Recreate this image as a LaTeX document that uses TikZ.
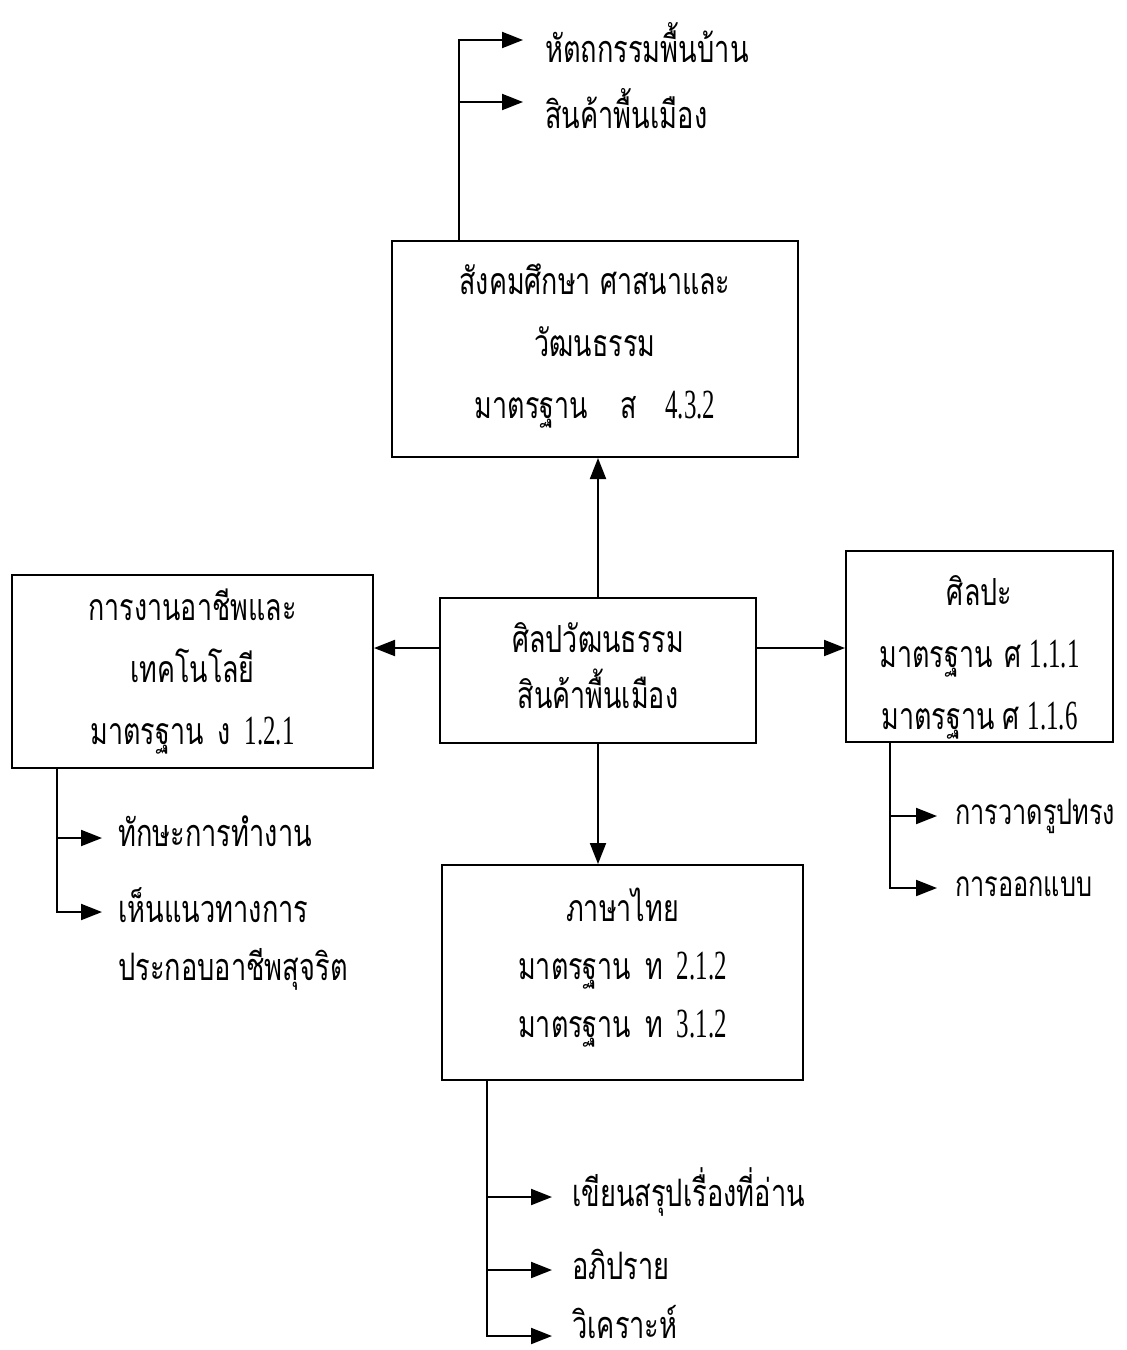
\documentclass[tikz,border=0pt]{standalone}
\usepackage{fontspec}
\setmainfont{Liberation Serif}[FakeStretch=0.6]
\newfontfamily\thaifont[Script=Thai,Scale=0.9,FakeStretch=0.72]{Loma}
\usetikzlibrary{arrows.meta}
\newcommand{\tf}[1]{{\thaifont #1}}
\begin{document}
\begin{tikzpicture}[x=1pt,y=-1pt,
  box/.style={draw, line width=2pt, align=center, inner sep=0pt},
  lbl/.style={anchor=base west, inner sep=0pt, font=\fontsize{42}{58}\selectfont},
  arr/.style={line width=2pt, -{Triangle[length=21pt,width=16pt]}},
  every node/.style={font=\fontsize{41.5}{60}\selectfont}]
\useasboundingbox[fill=white] (0,0) rectangle (1127,1350);

% boxes
\node[box, minimum width=406pt, minimum height=216pt] (soc) at (595,349)
  {\tf{สังคมศึกษา ศาสนาและ}\\[2pt]\tf{วัฒนธรรม}\\[2pt]\tf{มาตรฐาน}\hspace{33pt}\tf{ส}\hspace{28pt}4.3.2\\[-44pt]};
\node[box, minimum width=316pt, minimum height=145pt] (ctr) at (598,670.5)
  {\tf{ศิลปวัฒนธรรม}\\[-4pt]\tf{สินค้าพื้นเมือง}\\[-50pt]};
\node[box, minimum width=361pt, minimum height=193pt] (wrk) at (192.5,671.5)
  {\tf{การงานอาชีพและ}\\[2pt]\tf{เทคโนโลยี}\\[2pt]\tf{มาตรฐาน}\hspace{14pt}\tf{ง}\hspace{14pt}1.2.1};
\node[box, minimum width=267pt, minimum height=191pt] (art) at (979.5,646.5)
  {\tf{ศิลปะ}\\[2pt]\tf{มาตรฐาน}\hspace{12pt}\tf{ศ}\hspace{8pt}1.1.1\\[2pt]\tf{มาตรฐาน}\hspace{8pt}\tf{ศ}\hspace{8pt}1.1.6\\[-72pt]};
\node[box, minimum width=361pt, minimum height=215pt] (thl) at (622.5,972.5)
  {\tf{ภาษาไทย}\\[-2pt]\tf{มาตรฐาน}\hspace{14pt}\tf{ท}\hspace{14pt}2.1.2\\[-2pt]\tf{มาตรฐาน}\hspace{14pt}\tf{ท}\hspace{14pt}3.1.2\\[-40pt]};

% main connectors
\draw[arr] (ctr.north) -- (ctr.north |- soc.south);
\draw[arr] (ctr.west |- 0,648) -- (wrk.east |- 0,648);
\draw[arr] (ctr.east |- 0,648) -- (art.west |- 0,648);
\draw[arr] (ctr.south) -- (ctr.south |- thl.north);

% top branches
\node[lbl] (h1) at (545,62) {\tf{หัตถกรรมพื้นบ้าน}};
\node[lbl] (h2) at (545,128) {\tf{สินค้าพื้นเมือง}};
\coordinate (sj) at (soc.north -| 459,0);
\draw[arr] (sj) |- ([xshift=-22pt,yshift=22pt]h1.base west);
\draw[arr] (sj |- 0,102) -- ([xshift=-22pt,yshift=26pt]h2.base west);

% left branches
\node[lbl] (l1) at (118,846) {\tf{ทักษะการทำงาน}};
\node[lbl] (l2) at (118,922) {\tf{เห็นแนวทางการ}};
\node[lbl] (l3) at (118,980) {\tf{ประกอบอาชีพสุจริต}};
\coordinate (lj) at (wrk.south -| 57,0);
\draw[arr] (lj) |- ([xshift=-16pt,yshift=10pt]l2.base west);
\draw[arr] (lj |- 0,838) -- ([xshift=-16pt,yshift=8pt]l1.base west);

% right branches
\node[lbl, font=\fontsize{39}{58}\selectfont] (r1) at (955,824) {\tf{การวาดรูปทรง}};
\node[lbl, font=\fontsize{39}{58}\selectfont] (r2) at (955,896) {\tf{การออกแบบ}};
\coordinate (rj) at (art.south -| 890,0);
\draw[arr] (rj) |- ([xshift=-18pt,yshift=8pt]r2.base west);
\draw[arr] (rj |- 0,816) -- ([xshift=-18pt,yshift=8pt]r1.base west);

% bottom branches
\node[lbl] (b1) at (572,1206) {\tf{เขียนสรุปเรื่องที่อ่าน}};
\node[lbl] (b2) at (572,1279) {\tf{อภิปราย}};
\node[lbl, text depth=0pt] (b3) at (572,1338) {\tf{วิเคราะห์}};
\coordinate (bj) at (thl.south -| 487,0);
\draw[arr] (bj) |- ([xshift=-20pt,yshift=2pt]b3.base west);
\draw[arr] (bj |- 0,1197) -- ([xshift=-20pt,yshift=9pt]b1.base west);
\draw[arr] (bj |- 0,1270) -- ([xshift=-20pt,yshift=9pt]b2.base west);
\end{tikzpicture}
\end{document}
